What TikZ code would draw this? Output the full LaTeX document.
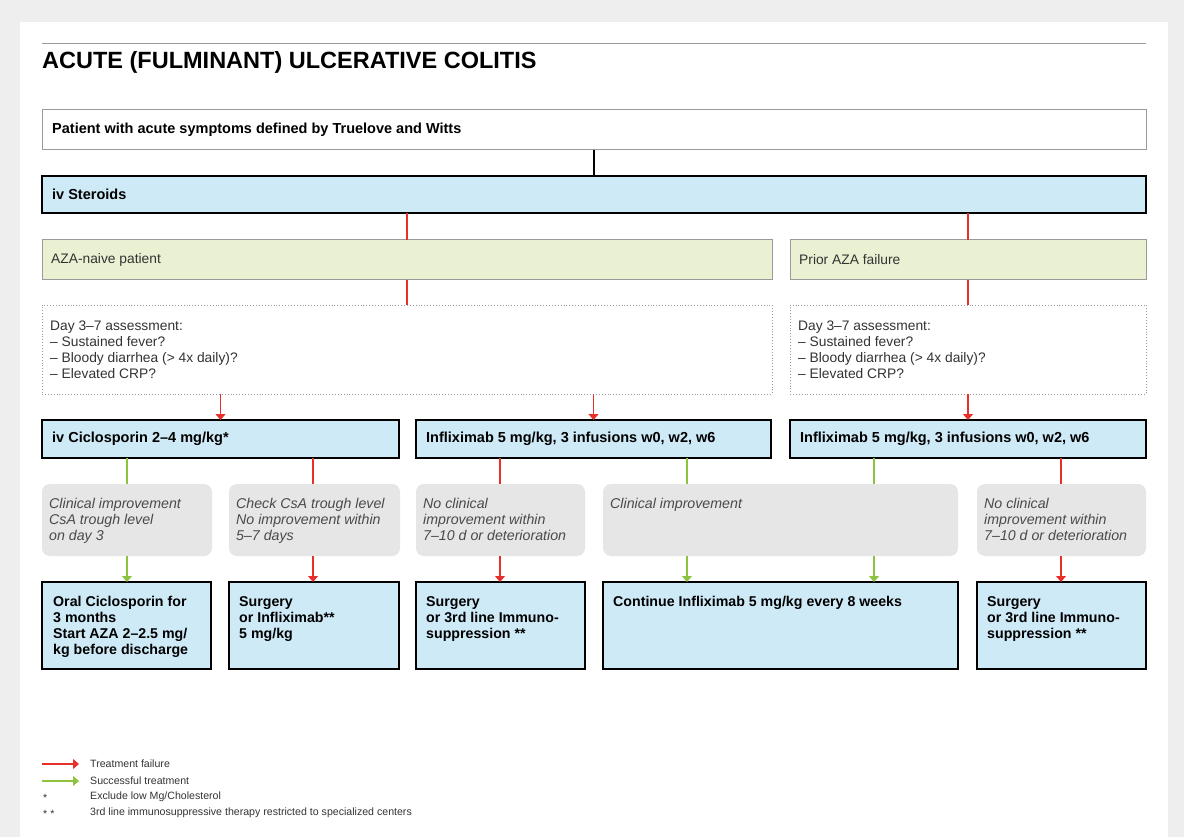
\documentclass[tikz,border=0pt]{standalone}
\usepackage{fontspec}
\setmainfont{Liberation Sans}
\usetikzlibrary{arrows.meta}
\definecolor{bgray}{HTML}{EEEEEE}
\definecolor{bluef}{HTML}{CFEAF7}
\definecolor{greenf}{HTML}{E9F1D2}
\definecolor{grayf}{HTML}{E6E6E6}
\definecolor{redl}{HTML}{E8302A}
\definecolor{greenl}{HTML}{8DC33F}
\definecolor{edgegray}{HTML}{9A9A9A}
\definecolor{txtgray}{HTML}{333333}
\definecolor{itgray}{HTML}{4A4A4A}
\tikzset{
  x=1pt, y=-1pt,
  base/.style={rectangle, anchor=north west, inner sep=0pt, outer sep=0pt},
  whitebox/.style={base, draw=edgegray, line width=1pt, fill=white},
  bluebox/.style={base, draw=black, line width=2.8pt, fill=bluef},
  greenbox/.style={base, draw=edgegray, line width=1pt, fill=greenf},
  dotbox/.style={base, draw=edgegray, line width=0.9pt, dotted, fill=white},
  graybox/.style={base, fill=grayf, rounded corners=8pt},
  btxt/.style={anchor=west, inner sep=0pt, font=\fontsize{14.5}{16}\selectfont\bfseries, text=black},
  rtxt/.style={anchor=north west, inner sep=0pt, align=left, font=\fontsize{13.8}{16}\selectfont, text=txtgray},
  itxt/.style={anchor=north west, inner sep=0pt, align=left, font=\fontsize{14.2}{16}\selectfont\itshape, text=itgray},
  bbtxt/.style={anchor=north west, inner sep=0pt, align=left, font=\fontsize{14.2}{16}\selectfont\bfseries, text=black},
  ltxt/.style={anchor=west, inner sep=0pt, font=\fontsize{10.6}{12}\selectfont, text=txtgray},
  redln/.style={draw=redl, line width=1.1pt},
  greenln/.style={draw=greenl, line width=1.1pt},
  redar/.style={redln, -{Triangle[length=6pt, width=10pt]}},
  greenar/.style={greenln, -{Triangle[length=6pt, width=10pt]}},
}
\newcommand\bx[6]{\node[#1, minimum width={(#4)-(#2)}, minimum height={(#5)-(#3)}] (#6) at (#2,#3) {};}
\begin{document}
\begin{tikzpicture}
\fill[bgray] (0,0) rectangle (1184,837);
\fill[white] (20,22) rectangle (1168,837);
\useasboundingbox (0,0) rectangle (1184,837);
% title
\draw[edgegray, line width=1pt] (42,44) -- (1146,44);
\node[anchor=base west, inner sep=0pt, font=\fontsize{23.5}{26}\selectfont\bfseries] (title) at (42,69) {ACUTE (FULMINANT) ULCERATIVE COLITIS};
% row 1
\bx{whitebox}{42}{110}{1146}{150}{patient}
\node[btxt] (tpatient) at (52,130) {Patient with acute symptoms defined by Truelove and Witts};
\bx{bluebox}{42}{176}{1146}{213}{steroids}
\node[btxt] (tsteroids) at (52,194.5) {iv Steroids};
\bx{greenbox}{42}{240}{772}{280}{naive}
\node[btxt, font=\fontsize{13.8}{16}\selectfont, text=txtgray] (tnaive) at (51,260) {AZA-naive patient};
\bx{greenbox}{790}{240}{1146}{280}{prior}
\node[btxt, font=\fontsize{13.8}{16}\selectfont, text=txtgray] (tprior) at (799,260) {Prior AZA failure};
\bx{dotbox}{42}{305}{772}{394}{assessL}
\node[rtxt] (tassessL) at (50,320.5) {Day 3--7 assessment:\\-- Sustained fever?\\-- Bloody diarrhea (> 4x daily)?\\-- Elevated CRP?};
\bx{dotbox}{790}{305}{1146}{394}{assessR}
\node[rtxt] (tassessR) at (798,320.5) {Day 3--7 assessment:\\-- Sustained fever?\\-- Bloody diarrhea (> 4x daily)?\\-- Elevated CRP?};
% treatment boxes
\bx{bluebox}{42}{420}{399}{458}{cic}
\node[btxt] (tcic) at (52,439) {iv Ciclosporin 2--4 mg/kg*};
\bx{bluebox}{416}{420}{771}{458}{ifxL}
\node[btxt] (tifxL) at (426,439) {Infliximab 5 mg/kg, 3 infusions w0, w2, w6};
\bx{bluebox}{790}{420}{1146}{458}{ifxR}
\node[btxt] (tifxR) at (800,439) {Infliximab 5 mg/kg, 3 infusions w0, w2, w6};
% gray condition boxes
\bx{graybox}{42}{484}{212}{556}{g1}
\node[itxt] (tg1) at (49,498) {Clinical improvement\\CsA trough level\\on day 3};
\bx{graybox}{229}{484}{400}{556}{g2}
\node[itxt] (tg2) at (236,498) {Check CsA trough level\\No improvement within\\5--7 days};
\bx{graybox}{416}{484}{585}{556}{g3}
\node[itxt] (tg3) at (423,498) {No clinical\\improvement within\\7--10 d or deterioration};
\bx{graybox}{603}{484}{958}{556}{g4}
\node[itxt] (tg4) at (610,498) {Clinical improvement};
\bx{graybox}{977}{484}{1146}{556}{g5}
\node[itxt] (tg5) at (984,498) {No clinical\\improvement within\\7--10 d or deterioration};
% result boxes
\bx{bluebox}{42}{582}{211}{669}{r1}
\node[bbtxt] (tr1) at (53,596) {Oral Ciclosporin for\\3 months\\Start AZA 2--2.5 mg/\\kg before discharge};
\bx{bluebox}{229}{582}{399}{669}{r2}
\node[bbtxt] (tr2) at (239,596) {Surgery\\or Infliximab**\\5 mg/kg};
\bx{bluebox}{416}{582}{585}{669}{r3}
\node[bbtxt] (tr3) at (426,596) {Surgery\\or 3rd line Immuno-\\suppression **};
\bx{bluebox}{603}{582}{958}{669}{r4}
\node[bbtxt] (tr4) at (613,596) {Continue Infliximab 5 mg/kg every 8 weeks};
\bx{bluebox}{977}{582}{1146}{669}{r5}
\node[bbtxt] (tr5) at (987,596) {Surgery\\or 3rd line Immuno-\\suppression **};
% connectors
\draw[black, line width=1.1pt] (patient.south) -- (steroids.north);
\draw[redln] (steroids.south -| naive.south) -- (naive.north);
\draw[redln] (steroids.south -| prior.south) -- (prior.north);
\draw[redln] (naive.south) -- (assessL.north);
\draw[redln] (prior.south) -- (assessR.north);
\draw[redar] (assessL.south -| cic.north) -- (cic.north);
\draw[redar] (assessL.south -| ifxL.north) -- (ifxL.north);
\draw[redar] (assessR.south) -- (ifxR.north);
\coordinate (c1) at (127,0);
\coordinate (c2) at (313,0);
\coordinate (c3) at (500,0);
\coordinate (c4) at (687,0);
\coordinate (c5) at (874,0);
\coordinate (c6) at (1061,0);
\draw[greenln] (cic.south -| c1) -- (g1.north -| c1);
\draw[redln] (cic.south -| c2) -- (g2.north -| c2);
\draw[redln] (ifxL.south -| c3) -- (g3.north -| c3);
\draw[greenln] (ifxL.south -| c4) -- (g4.north -| c4);
\draw[greenln] (ifxR.south -| c5) -- (g4.north -| c5);
\draw[redln] (ifxR.south -| c6) -- (g5.north -| c6);
\draw[greenar] (g1.south -| c1) -- (r1.north -| c1);
\draw[redar] (g2.south -| c2) -- (r2.north -| c2);
\draw[redar] (g3.south -| c3) -- (r3.north -| c3);
\draw[greenar] (g4.south -| c4) -- (r4.north -| c4);
\draw[greenar] (g4.south -| c5) -- (r4.north -| c5);
\draw[redar] (g5.south -| c6) -- (r5.north -| c6);
% legend
\coordinate (la) at (42,764);
\coordinate (lb) at (79,764);
\coordinate (lc) at (42,781);
\coordinate (ld) at (79,781);
\draw[redar] (la) -- (lb);
\draw[greenar] (lc) -- (ld);
\node[ltxt] (l1) at (90,764) {Treatment failure};
\node[ltxt] (l2) at (90,781) {Successful treatment};
\node[ltxt] (l3s) at (43,798) {*};
\node[ltxt] (l3) at (90,797) {Exclude low Mg/Cholesterol};
\node[ltxt] (l4s) at (43,814) {* *};
\node[ltxt] (l4) at (90,813) {3rd line immunosuppressive therapy restricted to specialized centers};
\end{tikzpicture}
\end{document}
